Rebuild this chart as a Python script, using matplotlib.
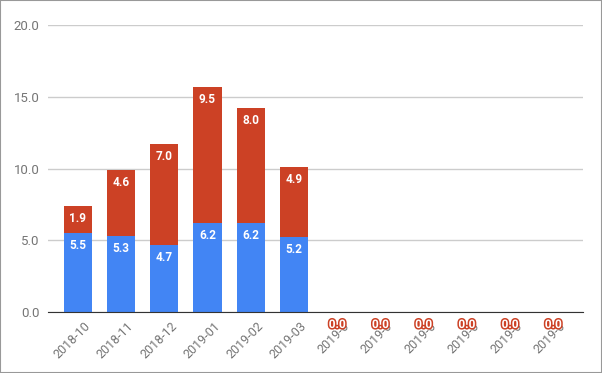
import matplotlib
matplotlib.use("Agg")
import matplotlib.pyplot as plt
import matplotlib.patheffects as pe
from matplotlib.patches import Rectangle
import numpy as np

plt.rcParams['font.family'] = ['Roboto', 'DejaVu Sans']

categories = ["2018-10", "2018-11", "2018-12", "2019-01", "2019-02", "2019-03",
              "2019-0", "2019-0", "2019-0", "2019-0", "2019-0", "2019-0"]
series_a = [5.5, 5.3, 4.7, 6.2, 6.2, 5.2, 0, 0, 0, 0, 0, 0]
series_b = [1.9, 4.6, 7.0, 9.5, 8.0, 4.9, 0, 0, 0, 0, 0, 0]
yticks = [0, 5, 10, 15, 20]

blue = "#4285F4"
red = "#CC4125"

fig = plt.figure(figsize=(6.02, 3.73), dpi=100)
ax = fig.add_axes([48/602, 1-312/373, (583-48)/602, (312-25)/373])

x = np.arange(len(categories))
w = 0.65
ax.bar(x, series_a, width=w, color=blue, zorder=3)
ax.bar(x, series_b, width=w, bottom=series_a, color=red, zorder=3)

ax.set_xlim(-0.69, len(categories) - 0.31)
ax.set_ylim(0, 20)
ax.set_yticks(yticks)
ax.set_yticklabels([f"{v:.1f}" for v in yticks], color="#757575", fontsize=9.5)
ax.yaxis.grid(True, color="#cccccc", linewidth=1, zorder=0)
ax.tick_params(axis='y', length=0, pad=6)
ax.tick_params(axis='x', length=0, pad=4)
ax.set_xticks(x)
ax.set_xticklabels(categories, rotation=45, ha='right', rotation_mode='anchor',
                   color="#757575", fontsize=9)
for lbl in ax.get_xticklabels():
    lbl.set_transform(lbl.get_transform() + matplotlib.transforms.ScaledTranslation(6/100, -2/100, fig.dpi_scale_trans))
for s in ['top', 'right', 'left']:
    ax.spines[s].set_visible(False)
ax.spines['bottom'].set_color("#333333")
ax.spines['bottom'].set_zorder(4)

# value labels
for i in range(len(categories)):
    a = series_a[i]
    b = series_b[i]
    if a > 0:
        ax.annotate(f"{a:.1f}", (x[i], a), xytext=(0, -9), textcoords="offset points",
                    ha='center', va='center', color='white', fontsize=8.5,
                    fontweight='bold', zorder=5)
        ax.annotate(f"{b:.1f}", (x[i], a + b), xytext=(0, -9), textcoords="offset points",
                    ha='center', va='center', color='white', fontsize=8.5,
                    fontweight='bold', zorder=5)
    else:
        t = ax.annotate(f"{b:.1f}", (x[i], 0), xytext=(0, -9), textcoords="offset points",
                        ha='center', va='center', color='white', fontsize=8.5,
                        fontweight='bold', zorder=5, annotation_clip=False)
        t.set_path_effects([pe.withStroke(linewidth=2.2, foreground=red)])

# outer frame
fig.patches.append(Rectangle((0, 0), 1, 1, transform=fig.transFigure, fill=False,
                             edgecolor="#999999", linewidth=1.5))

fig.savefig("out.png", dpi=100)
